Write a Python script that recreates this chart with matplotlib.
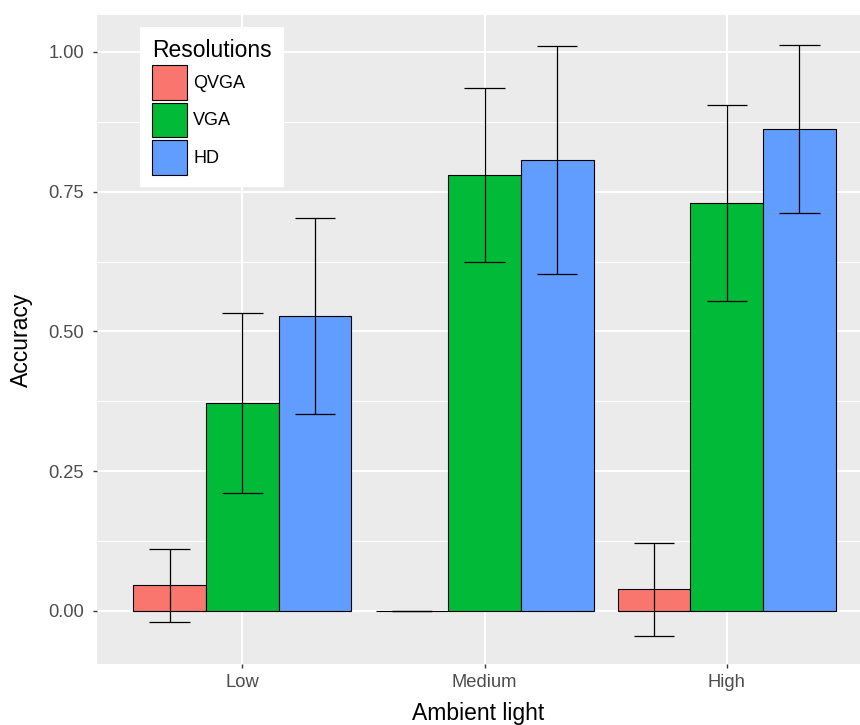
import matplotlib
matplotlib.use("Agg")
import matplotlib.pyplot as plt
import numpy as np

categories = ["Low", "Medium", "High"]
resolutions = ["QVGA", "VGA", "HD"]
means = {
    "QVGA": [0.0457, 0.0, 0.039],
    "VGA": [0.372, 0.7798, 0.7296],
    "HD": [0.5273, 0.8066, 0.8616],
}
sds = {
    "QVGA": [0.0657, 0.0, 0.083],
    "VGA": [0.1618, 0.156, 0.1746],
    "HD": [0.1757, 0.2041, 0.150],
}
colors = {"QVGA": "#F8766D", "VGA": "#00BA38", "HD": "#619CFF"}
yticks = [0.0, 0.25, 0.5, 0.75, 1.0]
ytick_labels = ["0.00", "0.25", "0.50", "0.75", "1.00"]

plt.rcParams['font.family'] = ['Liberation Sans', 'DejaVu Sans']

W, H = 860, 725
fig = plt.figure(figsize=(W / 100, H / 100), dpi=100)
ax = fig.add_axes([97 / W, (725 - 664) / H, (W - 97) / W, (664 - 15) / H])
ax.set_facecolor("#EBEBEB")
for s in ax.spines.values():
    s.set_visible(False)

x = np.arange(1, len(categories) + 1)
bw = 0.3
capw = 0.5 / 3
for i, r in enumerate(resolutions):
    xs = x + (i - 1) * bw
    m = np.array(means[r])
    sd = np.array(sds[r])
    ax.bar(xs, m, width=bw, color=colors[r], edgecolor="black", linewidth=0.8,
           label=r, zorder=3)
    ax.vlines(xs, m - sd, m + sd, color="black", linewidth=0.9, zorder=4)
    ax.hlines(m - sd, xs - capw / 2, xs + capw / 2, color="black", linewidth=0.9, zorder=4)
    ax.hlines(m + sd, xs - capw / 2, xs + capw / 2, color="black", linewidth=0.9, zorder=4)

ax.set_xlim(0.4, 3.55)
ax.set_ylim(-0.0948, 1.066)
ax.set_xticks(x)
ax.set_xticklabels(categories)
ax.set_yticks(yticks)
ax.set_yticklabels(ytick_labels)
ax.set_yticks([0.125, 0.375, 0.625, 0.875], minor=True)
ax.grid(True, which="major", color="white", linewidth=1.5, zorder=0)
ax.grid(True, which="minor", axis="y", color="white", linewidth=0.75, zorder=0)
ax.set_axisbelow(True)
ax.tick_params(axis="both", which="major", length=3.2, width=1.0, color="#333333",
               labelcolor="#4D4D4D", labelsize=13.2)
ax.tick_params(axis="x", which="major", pad=4)
ax.tick_params(axis="y", which="major", pad=6)
ax.tick_params(axis="y", which="minor", length=0)
ax.set_xlabel("Ambient light", fontsize=16.5, color="black", labelpad=8)
ax.set_ylabel("Accuracy", fontsize=16.5, color="black", labelpad=11)

leg = ax.legend(title="Resolutions", loc="upper left",
                bbox_to_anchor=((140 - 97) / (W - 97), (664 - 27) / (664 - 15)),
                fontsize=13, title_fontsize=16.5, frameon=True, fancybox=False,
                framealpha=1, edgecolor="white", facecolor="white",
                handlelength=1.94, handleheight=2.55, labelspacing=0.17,
                handletextpad=0.33, borderpad=0.68, borderaxespad=0,
                alignment="left")
leg.get_frame().set_linewidth(0)

fig.savefig("out.png", dpi=100)
